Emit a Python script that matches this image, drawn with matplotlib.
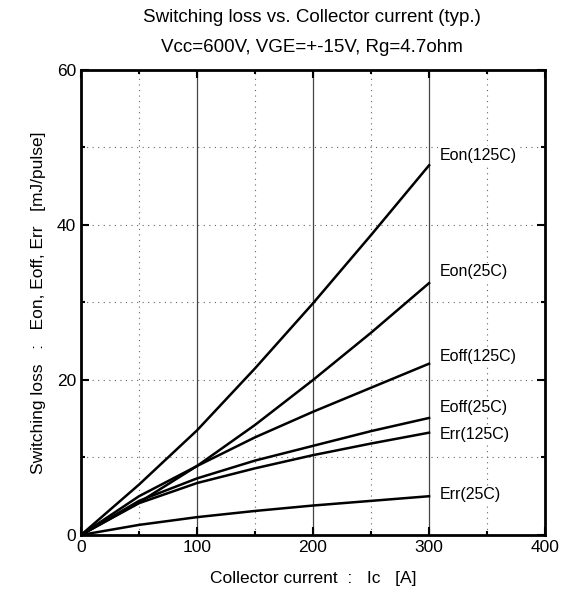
import matplotlib.pyplot as plt
from matplotlib.ticker import MultipleLocator

plt.rcParams['font.family'] = ['Liberation Sans', 'DejaVu Sans']

# collector current [A]
ic = [0, 50, 100, 150, 200, 250, 300]

# switching losses [mJ/pulse]
eon_125 = [0, 6.5, 13.5, 21.5, 29.9, 38.7, 47.7]
eon_25 = [0, 4.2, 8.9, 14.2, 20.0, 26.1, 32.5]
eoff_125 = [0, 5.0, 8.9, 12.6, 15.9, 19.0, 22.1]
eoff_25 = [0, 4.4, 7.3, 9.6, 11.5, 13.4, 15.1]
err_125 = [0, 4.1, 6.7, 8.6, 10.3, 11.8, 13.2]
err_25 = [0, 1.3, 2.3, 3.1, 3.8, 4.4, 5.0]

series = [
    (eon_125, 'Eon(125C)', 49.0),
    (eon_25, 'Eon(25C)', 34.0),
    (eoff_125, 'Eoff(125C)', 23.0),
    (eoff_25, 'Eoff(25C)', 16.4),
    (err_125, 'Err(125C)', 13.0),
    (err_25, 'Err(25C)', 5.2),
]

fig = plt.figure(figsize=(5.72, 5.98), dpi=100)
ax = fig.add_axes([0.1416, 0.1054, 0.8114, 0.7776])

for x in [100, 200, 300]:
    ax.axvline(x, color='#444444', lw=0.9, zorder=1)
for x in [50, 150, 250, 350]:
    ax.axvline(x, color='#666666', lw=0.8, ls=(0, (1, 4)), zorder=1)
for y in [10, 20, 30, 40, 50]:
    ax.axhline(y, color='#666666', lw=0.8, ls=(0, (1, 4)), zorder=1)

for vals, name, ly in series:
    ax.plot(ic, vals, color='black', lw=1.8, zorder=3)
    ax.text(309, ly, name, fontsize=11.5, va='center', ha='left',
            bbox=dict(facecolor='white', edgecolor='none', pad=1), zorder=4)

ax.set_xlim(0, 400)
ax.set_ylim(0, 60)
ax.xaxis.set_major_locator(MultipleLocator(100))
ax.yaxis.set_major_locator(MultipleLocator(20))
ax.xaxis.set_minor_locator(MultipleLocator(50))
ax.yaxis.set_minor_locator(MultipleLocator(10))
ax.tick_params(which='both', direction='in', top=True, right=True,
               labelsize=12.5, width=1.5)
ax.tick_params(which='major', length=6)
ax.tick_params(which='minor', length=3)
for s in ax.spines.values():
    s.set_linewidth(2)

ax.set_xlabel('Collector current  :   Ic   [A]', fontsize=12.5, labelpad=12)
ax.set_ylabel('Switching loss   :   Eon, Eoff, Err   [mJ/pulse]',
              fontsize=12.5, labelpad=8)
fig.text(0.545, 0.97, 'Switching loss vs. Collector current (typ.)',
         ha='center', va='center', fontsize=13.5)
fig.text(0.545, 0.92, 'Vcc=600V, VGE=+-15V, Rg=4.7ohm',
         ha='center', va='center', fontsize=13.5)

fig.savefig('out.png', dpi=100)
